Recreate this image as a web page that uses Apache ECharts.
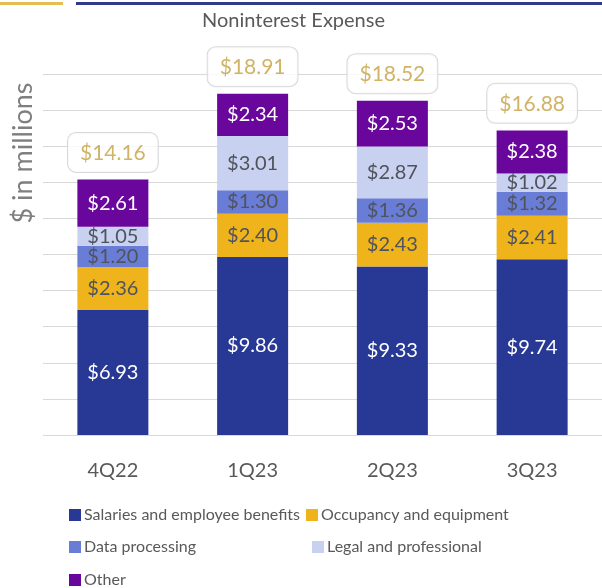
<!DOCTYPE html>
<html>
<head>
<meta charset="utf-8">
<script src="https://cdn.jsdelivr.net/npm/echarts@6/dist/echarts.min.js"></script>
<style>
html,body{margin:0;padding:0;background:#fff;}
#chart{width:602px;height:588px;}
</style>
</head>
<body>
<div id="chart"></div>
<script>
const categories = ['4Q22', '1Q23', '2Q23', '3Q23'];
const salaries = [6.93, 9.86, 9.33, 9.74];
const occupancy = [2.36, 2.40, 2.43, 2.41];
const dataProcessing = [1.20, 1.30, 1.36, 1.32];
const legal = [1.05, 3.01, 2.87, 1.02];
const other = [2.61, 2.34, 2.53, 2.38];
const totals = [14.16, 18.91, 18.52, 16.88];
const seriesNames = ['Salaries and employee benefits', 'Occupancy and equipment', 'Data processing', 'Legal and professional', 'Other'];
const yTicks = [0, 20, 2];

const FONT = 'Lato, "Open Sans", sans-serif';
const colors = ['#283895', '#EFB41C', '#6A7DD6', '#C9D1F1', '#69079C'];
const labelColors = ['#ffffff', '#4f535c', '#4f535c', '#4f535c', '#ffffff'];
const values = [salaries, occupancy, dataProcessing, legal, other];

const chart = echarts.init(document.getElementById('chart'), null, {renderer: 'canvas'});

const barSeries = seriesNames.map((name, i) => ({
  name: name,
  type: 'bar',
  stack: 'total',
  barWidth: 71,
  data: values[i],
  itemStyle: {color: colors[i]},
  label: {
    show: true,
    position: 'inside',
    formatter: p => '$' + p.value.toFixed(2),
    color: labelColors[i],
    fontSize: 20,
    fontFamily: FONT
  },
  emphasis: {disabled: true}
}));

const legendPos = [
  {left: 69, top: 507},
  {left: 306, top: 507},
  {left: 69, top: 539},
  {left: 312, top: 539},
  {left: 69, top: 572}
];

const legends = seriesNames.map((name, i) => ({
  data: [name],
  left: legendPos[i].left,
  top: legendPos[i].top,
  padding: 0,
  icon: 'rect',
  itemWidth: 12,
  itemHeight: 12,
  itemGap: 5,
  textStyle: {fontSize: 16, color: '#595959', fontFamily: FONT, padding: [0, 0, 0, -2]},
  selectedMode: false
}));

const option = {
  animation: false,
  backgroundColor: '#ffffff',
  title: {
    text: 'Noninterest Expense',
    left: 197,
    top: 6,
    textStyle: {fontSize: 20, fontWeight: 'normal', color: '#595959', fontFamily: FONT}
  },
  legend: legends,
  grid: {left: 43, right: 0, top: 74, bottom: 153, containLabel: false},
  xAxis: {
    type: 'category',
    data: categories,
    axisLine: {show: false},
    axisTick: {show: false},
    axisLabel: {fontSize: 20, color: '#595959', margin: 26, fontFamily: FONT}
  },
  yAxis: {
    type: 'value',
    min: yTicks[0],
    max: yTicks[1],
    interval: yTicks[2],
    axisLabel: {show: false},
    axisLine: {show: false},
    axisTick: {show: false},
    splitLine: {lineStyle: {color: '#d9d9d9', width: 1}}
  },
  graphic: [
    {type: 'rect', shape: {x: 0, y: 2, width: 63, height: 3}, style: {fill: '#E2BF50'}},
    {type: 'rect', shape: {x: 76, y: 2, width: 526, height: 3}, style: {fill: '#2E3A8C'}},
    {
      type: 'text', x: 23, y: 153, rotation: Math.PI / 2,
      style: {text: '$ in millions', fontSize: 27, fontFamily: FONT, fill: '#7f7f7f', align: 'center', verticalAlign: 'middle'}
    }
  ],
  series: barSeries.concat([{
    name: 'Total',
    type: 'scatter',
    data: totals,
    symbolSize: 1,
    itemStyle: {color: 'rgba(0,0,0,0)'},
    label: {
      show: true,
      position: 'top',
      distance: 7,
      formatter: p => '$' + p.value.toFixed(2),
      color: '#C4A040',
      fontSize: 21,
      fontFamily: FONT,
      lineHeight: 22,
      backgroundColor: '#ffffff',
      borderColor: '#cfcfcf',
      borderWidth: 1,
      borderRadius: 8,
      padding: [9, 12, 8, 12]
    },
    emphasis: {disabled: true},
    z: 10
  }])
};

chart.setOption(option);
</script>
</body>
</html>
